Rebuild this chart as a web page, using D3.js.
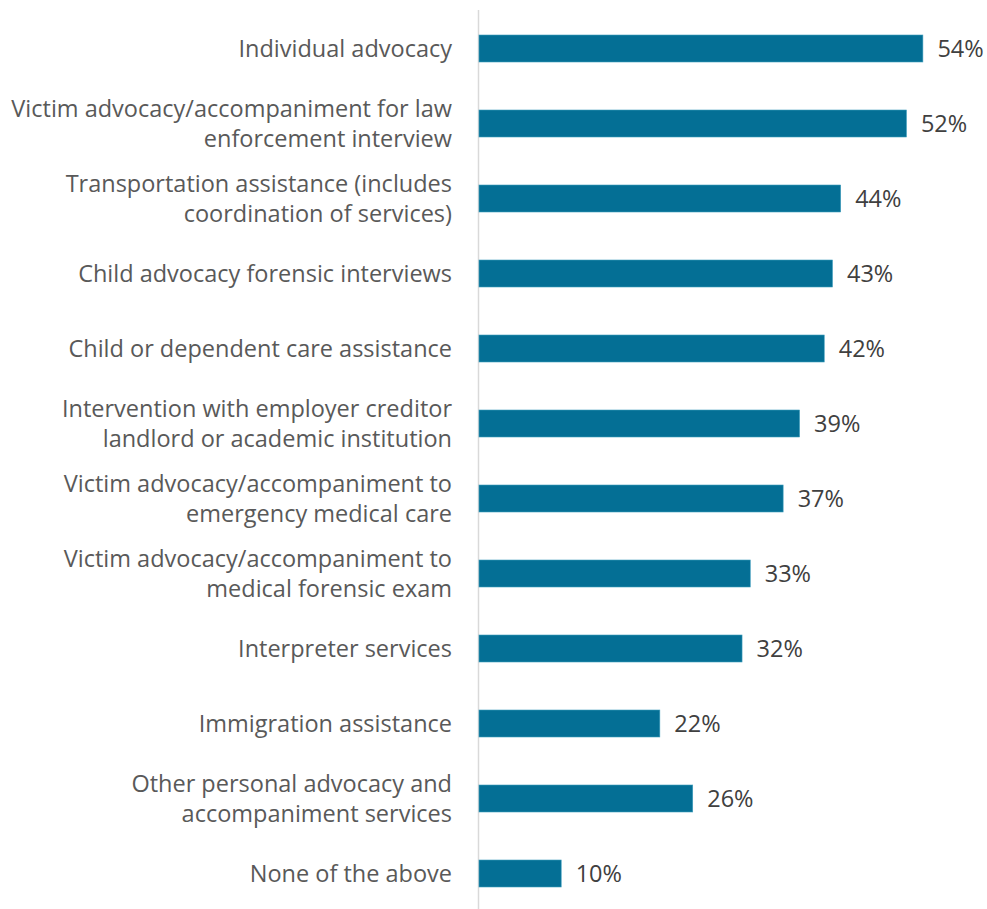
<!DOCTYPE html>
<html>
<head>
<meta charset="utf-8">
<script src="https://cdn.jsdelivr.net/npm/d3@7"></script>
<style>
  html, body { margin: 0; padding: 0; background: #fff; }
  svg text { font-family: "Open Sans", "Liberation Sans", sans-serif; }
</style>
</head>
<body>
<svg id="chart" width="987" height="909"></svg>
<script>
// Services provided (share of respondents)
const categories = [
  "Individual advocacy",
  "Victim advocacy/accompaniment for law|enforcement interview",
  "Transportation assistance (includes|coordination of services)",
  "Child advocacy forensic interviews",
  "Child or dependent care assistance",
  "Intervention with employer creditor|landlord or academic institution",
  "Victim advocacy/accompaniment to|emergency medical care",
  "Victim advocacy/accompaniment to|medical forensic exam",
  "Interpreter services",
  "Immigration assistance",
  "Other personal advocacy and|accompaniment services",
  "None of the above"
];
const values = [54, 52, 44, 43, 42, 39, 37, 33, 32, 22, 26, 10];
const valueLabels = values.map(v => v + "%");

const svg = d3.select("#chart");
const axisX = 478.5;

const x = d3.scaleLinear().domain([0, 60]).range([axisX, axisX + 60 * 8.22]);
const y = d3.scaleBand().domain(categories).range([11, 911]).paddingInner(0.64).paddingOuter(0.32);

const barColor = "#046f95";
const textColor = "#595959";
const fontSize = 23.5;

// vertical category axis line
svg.append("line")
  .attr("x1", axisX).attr("x2", axisX)
  .attr("y1", 10).attr("y2", 909)
  .attr("stroke", "#d9d9d9").attr("stroke-width", 1.5);

// bars
svg.selectAll("rect.bar")
  .data(categories)
  .join("rect")
  .attr("class", "bar")
  .attr("x", x(0) + 0.5)
  .attr("y", d => y(d))
  .attr("width", (d, i) => x(values[i]) - x(0))
  .attr("height", y.bandwidth())
  .attr("fill", barColor)
  .attr("stroke", "#3f9dbd")
  .attr("stroke-width", 0.6);

// value labels
svg.selectAll("text.val")
  .data(categories)
  .join("text")
  .attr("class", "val")
  .attr("x", (d, i) => x(values[i]) + 15)
  .attr("y", d => y(d) + y.bandwidth() / 2)
  .attr("dy", "0.35em")
  .attr("font-size", fontSize)
  .attr("fill", "#404040")
  .text((d, i) => valueLabels[i]);

// category labels (wrapped at '|')
const lab = svg.selectAll("text.cat")
  .data(categories)
  .join("text")
  .attr("class", "cat")
  .attr("text-anchor", "end")
  .attr("font-size", fontSize)
  .attr("fill", textColor);

lab.each(function(d) {
  const lines = d.split("|");
  const cy = y(d) + y.bandwidth() / 2;
  const t = d3.select(this);
  const lh = 30;
  lines.forEach((ln, k) => {
    t.append("tspan")
      .attr("x", 452)
      .attr("y", cy + 8 + (k - (lines.length - 1) / 2) * lh)
      .text(ln);
  });
});
</script>
</body>
</html>
